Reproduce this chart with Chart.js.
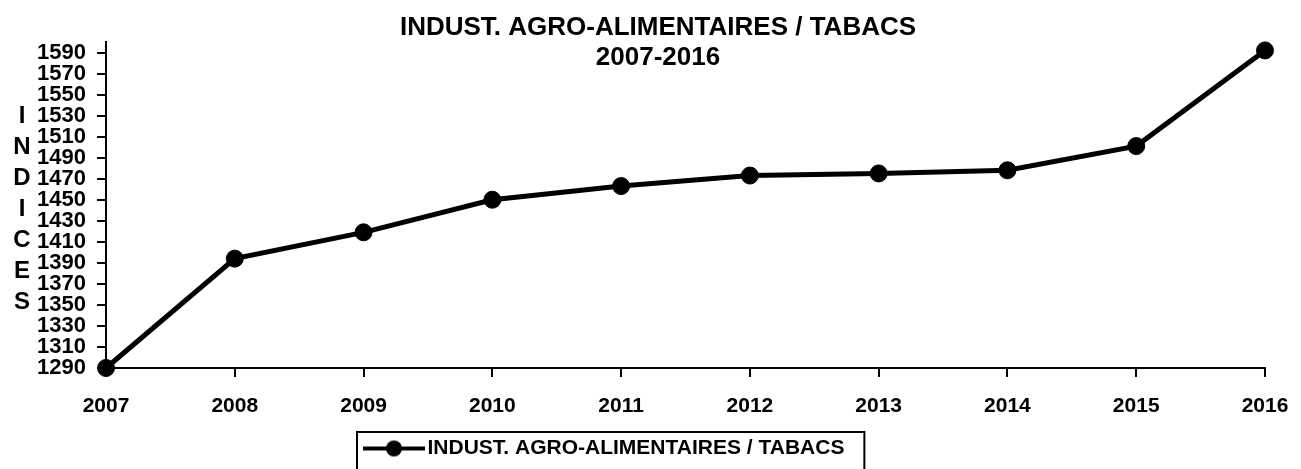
<!DOCTYPE html>
<html>
<head>
<meta charset="utf-8">
<script src="https://cdn.jsdelivr.net/npm/chart.js@4.4.1/dist/chart.umd.min.js"></script>
<style>
    html, body { margin: 0; padding: 0; background: #fff; }
    #wrap { width: 1301px; height: 469px; }
</style>
</head>
<body>
<div id="wrap"><canvas id="chart" width="1301" height="469"></canvas></div>
<script>
// Data
const years = ['2007', '2008', '2009', '2010', '2011', '2012', '2013', '2014', '2015', '2016'];
const indices = [1290, 1394, 1419, 1450, 1463, 1473, 1475, 1478, 1501, 1592];
const yTicks = [1290, 1310, 1330, 1350, 1370, 1390, 1410, 1430, 1450, 1470, 1490, 1510, 1530, 1550, 1570, 1590];
const seriesName = 'INDUST. AGRO-ALIMENTAIRES / TABACS';
const titleLines = ['INDUST. AGRO-ALIMENTAIRES / TABACS', '2007-2016'];
const axisTitle = 'INDICES';

const FONT = '"Liberation Sans", Arial, sans-serif';

// Legend marker: line with a dot in the middle
const legendMark = document.createElement('canvas');
legendMark.width = 62;
legendMark.height = 20;
const lctx = legendMark.getContext('2d');
lctx.strokeStyle = '#000';
lctx.fillStyle = '#000';
lctx.lineWidth = 4;
lctx.beginPath();
lctx.moveTo(0, 10);
lctx.lineTo(62, 10);
lctx.stroke();
lctx.beginPath();
lctx.arc(31, 10, 8, 0, Math.PI * 2);
lctx.fill();

// Title, stacked axis title and the legend frame
const decor = {
    id: 'decor',
    beforeDraw(chart) {
        const lg = chart.legend;
        const hb = lg.legendHitBoxes[0];
        const shift = 371 - hb.left;
        lg.left += shift;
        lg.right += shift;
        lg.legendHitBoxes.forEach(h => h.left += shift);
    },
    afterDraw(chart) {
        const ctx = chart.ctx;
        ctx.save();
        ctx.fillStyle = '#000';
        ctx.textAlign = 'center';
        ctx.textBaseline = 'middle';
        ctx.font = `bold 26px ${FONT}`;
        titleLines.forEach((t, i) => ctx.fillText(t, 658, 28 + i * 30));
        ctx.font = `bold 24px ${FONT}`;
        axisTitle.split('').forEach((c, i) => ctx.fillText(c, 22, 116 + i * 31));

        const hb = chart.legend.legendHitBoxes[0];
        ctx.strokeStyle = '#000';
        ctx.lineWidth = 2;
        ctx.strokeRect(hb.left - 14, 432, hb.width + 34, 60);
        ctx.restore();
    }
};

new Chart(document.getElementById('chart'), {
    type: 'line',
    data: {
        labels: years,
        datasets: [{
            label: seriesName,
            data: indices,
            borderColor: '#000',
            backgroundColor: '#000',
            borderWidth: 5,
            pointRadius: 8.5,
            pointBackgroundColor: '#000',
            pointBorderColor: '#000',
            pointBorderWidth: 1,
            tension: 0,
            clip: false
        }]
    },
    options: {
        responsive: false,
        animation: false,
        layout: { padding: { top: 42, right: 36, bottom: 0, left: 0 } },
        plugins: {
            title: { display: false },
            tooltip: { enabled: false },
            legend: {
                position: 'bottom',
                labels: {
                    usePointStyle: true,
                    pointStyle: legendMark,
                    pointStyleWidth: 46,
                    padding: 10,
                    color: '#000',
                    font: { family: FONT, size: 21, weight: 'bold' }
                }
            }
        },
        scales: {
            x: {
                offset: false,
                afterFit: s => { s.height = 60; s.paddingLeft = 0; s.paddingRight = 0; },
                border: { color: '#000', width: 2 },
                grid: { drawOnChartArea: false, drawTicks: true, tickLength: 9, color: '#000', lineWidth: 2 },
                ticks: {
                    color: '#000', padding: 17, maxRotation: 0, autoSkip: false,
                    font: { family: FONT, size: 21, weight: 'bold' }
                }
            },
            y: {
                min: 1290,
                max: 1600,
                afterBuildTicks: s => { s.ticks = yTicks.map(v => ({ value: v })); },
                afterFit: s => { s.width = 106; },
                border: { color: '#000', width: 2 },
                grid: { drawOnChartArea: false, drawTicks: true, tickLength: 9, color: '#000', lineWidth: 2 },
                ticks: {
                    color: '#000', padding: 11, autoSkip: false,
                    callback: v => String(v),
                    font: { family: FONT, size: 22, weight: 'bold' }
                }
            }
        }
    },
    plugins: [decor]
});
</script>
</body>
</html>
